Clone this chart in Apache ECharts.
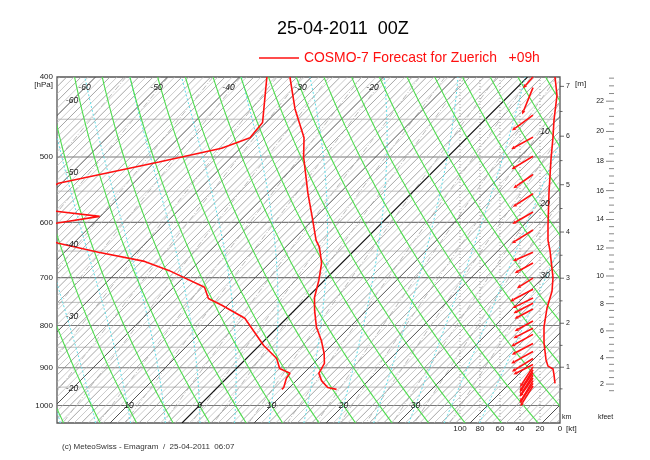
<!DOCTYPE html>
<html>
<head>
<meta charset="utf-8">
<script src="https://cdn.jsdelivr.net/npm/echarts@6/dist/echarts.min.js"></script>
<style>
html,body{margin:0;padding:0;background:#ffffff;}
#chart{width:650px;height:460px;}
</style>
</head>
<body>
<div id="chart"></div>
<script>
// ---------------- data ----------------
const titleText = '25-04-2011  00Z';
const forecastName = 'COSMO-7 Forecast for Zuerich   +09h';
const footerText = '(c) MeteoSwiss - Emagram  /  25-04-2011  06:07';

const pressureTicks = [400, 500, 600, 700, 800, 900, 1000];
const isobars = [450, 500, 550, 600, 650, 700, 750, 800, 850, 900, 950, 1000];
const topIsothermLabels = [-60, -50, -40, -30, -20];
const leftIsothermLabels = [-60, -50, -40, -30, -20];
const rightIsothermLabels = [10, 20, 30];
const bottomIsothermLabels = [-10, 0, 10, 20, 30];
const windTicks = [100, 80, 60, 40, 20, 0];
const kmTicks = [1, 2, 3, 4, 5, 6, 7];
const kfeetTicks = [2, 4, 6, 8, 10, 12, 14, 16, 18, 20, 22];

// temperature profile (hPa, °C)
const tempP = [400, 437, 474, 500, 553, 591, 631, 643, 672, 705, 740, 767, 804, 834, 865, 889, 914, 933, 951, 956];
const tempT = [-33.0, -27.9, -22.6, -20.0, -14.4, -10.5, -6.7, -5.3, -2.8, -0.8, 1.0, 2.8, 5.4, 7.9, 10.1, 11.5, 12.1, 13.5, 15.3, 16.8];
// dew point profile (hPa, °C)
const dewP = [400, 454, 474, 488, 507, 538, 574, 590, 612, 636, 652, 669, 686, 719, 742, 756, 784, 846, 877, 902, 914, 927, 951, 956];
const dewT = [-36.2, -30.5, -30.1, -32.6, -39.4, -50.4, -53.1, -40.1, -49.9, -42.1, -35.3, -27.6, -23.0, -15.7, -13.6, -10.8, -5.8, 0.6, 4.2, 6.0, 8.1, 8.3, 9.2, 9.2];
// wind speed profile (hPa, kt)
const speedP = [400, 421, 451, 473, 503, 552, 605, 631, 649, 700, 727, 762, 803, 840, 880, 896, 903, 918, 940];
const speedKt = [5, 3, 6, 7, 9, 11, 12, 12, 10, 7, 8, 13, 16, 16, 14, 12, 7, 6, 5];
// wind arrows (hPa, direction from [deg], length)
const arrowP = [400, 412, 445, 473, 499, 525, 554, 583, 613, 652, 672, 701, 723, 741, 752, 764, 790, 806, 820, 841, 860, 877, 892, 898, 905, 912, 919, 926, 933, 940, 947];
const arrowDir = [42, 22, 54, 61, 59, 55, 57, 60, 58, 66, 61, 58, 62, 64, 63, 62, 61, 63, 61, 62, 61, 58, 63, 33, 31, 34, 32, 35, 31, 34, 32];
const arrowLen = [15, 29, 26, 25, 25, 24, 24, 24, 25, 22, 21, 19, 26, 23, 22, 21, 21, 22, 25, 24, 25, 25, 22, 24, 25, 24, 25, 23, 25, 24, 24];

// ---------------- geometry ----------------
const K = 49.72;            // skew of isotherms (°C per unit of ln p)
const XMIN = -19.79, XMAX = 50.07;
const PX_PER_DEG = 7.2;
const ARROW_TAIL_KT = 27;
const skewX = (T, p) => T + K * Math.log(1000 / p);
const windX = kt => XMAX - kt / PX_PER_DEG;
const stdP = h => 1013.25 * Math.pow(1 - 2.25577e-5 * h, 5.25588);
const FONT = '"Liberation Sans", Arial, sans-serif';

// ---------------- background families ----------------
function range(a, b, s) { const r = []; for (let v = a; v <= b + 1e-9; v += s) r.push(+v.toFixed(4)); return r; }
const pLevels = range(400, 1050, 10);

const isoLines = range(-66, 52, 1).map(T => ({
  pts: [[skewX(T, 400), 400], [skewX(T, 1050), 1050]],
  style: T === 0 ? { stroke: '#111', lineWidth: 1.1 } :
         (T % 10 === 0 ? { stroke: '#505050', lineWidth: 1 } :
         (T % 2 === 0 ? { stroke: '#8e8e8e', lineWidth: 0.8 } : { stroke: '#b4b4b4', lineWidth: 0.7 }))
}));

const dryLines = range(-30, 95, 5).map(th => ({
  pts: pLevels.map(p => [skewX((th + 273.15) * Math.pow(p / 1000, 0.2857) - 273.15, p), p]),
  style: { stroke: '#4fdc4f', lineWidth: 1.1 }
}));

function es(Tc) { return 6.112 * Math.exp(17.67 * Tc / (Tc + 243.5)); }
function rsat(Tc, p) { const e = es(Tc); return 0.622 * e / (p - e); }
function dTdp(Tc, p) {
  const T = Tc + 273.15, r = rsat(Tc, p), Lv = 2.501e6, Rd = 287.04, cp = 1005.7;
  return (1 / p) * (Rd * T + Lv * r) / (cp + Lv * Lv * r * 0.622 / (Rd * T * T));
}
function moist(thw) {
  const up = [], dn = [];
  let T = thw, p = 1000, h = -5;
  up.push([T, p]);
  while (p > 400) { const k1 = dTdp(T, p); const k2 = dTdp(T + k1 * h / 2, p + h / 2); T += k2 * h; p += h; up.push([T, p]); }
  T = thw; p = 1000; h = 5;
  while (p < 1050) { const k1 = dTdp(T, p); const k2 = dTdp(T + k1 * h / 2, p + h / 2); T += k2 * h; p += h; dn.push([T, p]); }
  return dn.reverse().concat(up).map(([t, pp]) => [skewX(t, pp), pp]);
}
const moistLines = range(-25, 40, 5).map(th => ({
  pts: moist(th), style: { stroke: '#5fdfea', lineWidth: 1, lineDash: [2, 2] }
}));

const mixValues = [0.05, 0.1, 0.2, 0.3, 0.5, 0.7, 1, 1.5, 2, 3, 4, 5, 7, 10, 13, 16, 20, 25, 30, 40];
const mixLines = mixValues.map(w => ({
  pts: pLevels.map(p => {
    const e = (w / 1000) * p / (0.622 + w / 1000); const l = Math.log(e / 6.112);
    return [skewX(243.5 * l / (17.67 - l), p), p];
  }),
  style: { stroke: '#9c9c9c', lineWidth: 0.7, lineDash: [6, 2, 1, 2] }
}));

const isobarLines = isobars.map(p => ({
  pts: [[XMIN, p], [XMAX, p]],
  style: p % 100 === 0 ? { stroke: '#7a7a7a', lineWidth: 1.2 } : { stroke: '#bcbcbc', lineWidth: 1 }
}));
const windGridLines = windTicks.filter(k => k > 0).map(k => ({
  pts: [[windX(k), 400], [windX(k), 1050]],
  style: { stroke: '#8a8a8a', lineWidth: 0.8, lineDash: [1, 2] }
}));

function familySeries(lines, z) {
  return {
    type: 'custom', coordinateSystem: 'cartesian2d', clip: true, silent: true, z: z, animation: false,
    data: [[10, 700]],
    renderItem: (params, api) => ({
      type: 'group',
      children: lines.map(l => ({
        type: 'polyline',
        shape: { points: l.pts.map(pt => api.coord(pt)) },
        style: Object.assign({ fill: null }, l.style)
      }))
    })
  };
}

// ---------------- decorations (labels/ticks) ----------------
function txt(x, y, text, o) {
  o = o || {};
  return {
    type: 'text', x: x, y: y,
    style: {
      text: text, fill: o.fill || '#222',
      font: (o.italic ? 'italic ' : '') + (o.size || 8) + 'px ' + FONT,
      align: o.align || 'center', textAlign: o.align || 'center',
      verticalAlign: o.va || 'middle', textVerticalAlign: o.va || 'middle'
    }
  };
}
function seg(x1, y1, x2, y2, color, w) {
  return { type: 'line', shape: { x1, y1, x2, y2 }, style: { stroke: color || '#333', lineWidth: w || 1 } };
}

const decor = {
  type: 'custom', coordinateSystem: 'cartesian2d', clip: false, silent: true, z: 10, animation: false,
  data: [[10, 700]],
  renderItem: (params, api) => {
    const ch = [];
    const left = api.coord([XMIN, 400])[0], right = api.coord([XMAX, 400])[0];
    const top = api.coord([XMIN, 400])[1], bottom = api.coord([XMIN, 1050])[1];
    // pressure labels
    pressureTicks.forEach(p => { const c = api.coord([XMIN, p]); ch.push(txt(c[0] - 4, c[1], String(p), { align: 'right' })); });
    ch.push(txt(left - 4, top + 8, '[hPa]', { align: 'right' }));
    // isotherm labels
    const pTop = 400 * Math.exp(11 / 358);
    topIsothermLabels.forEach(T => { const c = api.coord([skewX(T, pTop), pTop]); ch.push(txt(c[0], c[1], String(T), { italic: true, size: 8.5 })); });
    const xl = XMIN + 15 / PX_PER_DEG, xr = XMAX - 15 / PX_PER_DEG;
    leftIsothermLabels.forEach(T => { const p = 1000 * Math.exp(-(xl - T) / K); const c = api.coord([xl, p]); ch.push(txt(c[0], c[1], String(T), { italic: true, size: 8.5 })); });
    rightIsothermLabels.forEach(T => { const p = 1000 * Math.exp(-(xr - T) / K); const c = api.coord([xr, p]); ch.push(txt(c[0], c[1], String(T), { italic: true, size: 8.5 })); });
    bottomIsothermLabels.forEach(T => { const c = api.coord([skewX(T, 1000), 1000]); ch.push(txt(c[0], c[1], String(T), { italic: true, size: 8.5 })); });
    // wind speed axis
    windTicks.forEach(k => { const x = api.coord([windX(k), 1050])[0]; ch.push(txt(x, bottom + 6, String(k))); });
    ch.push(txt(right + 6, bottom + 6, '[kt]', { align: 'left' }));
    // km axis
    for (let h = 0.5; h <= 7.5; h += 0.5) {
      const p = stdP(h * 1000); if (p < 400 || p > 1050) continue;
      const y = api.coord([XMAX, p])[1];
      const major = Math.abs(h - Math.round(h)) < 1e-6;
      ch.push(seg(right, y, right + (major ? 4 : 2.5), y, '#444', 0.8));
    }
    kmTicks.forEach(h => { const y = api.coord([XMAX, stdP(h * 1000)])[1]; ch.push(txt(right + 6, y, String(h), { align: 'left', size: 7 })); });
    ch.push(txt(right + 15, top + 7, '[m]', { align: 'left' }));
    ch.push(txt(right + 2, bottom - 6, 'km', { align: 'left', size: 7 }));
    // kfeet axis
    const kx = right + 54;
    for (let f = 1.5; f <= 23.5; f += 0.5) {
      const p = stdP(f * 304.8); if (p < 400 || p > 1050) continue;
      const y = api.coord([XMAX, p])[1];
      const major = Math.abs(f / 2 - Math.round(f / 2)) < 1e-6;
      ch.push(seg(kx - (major ? 8 : 5), y, kx, y, '#555', 0.7));
    }
    kfeetTicks.forEach(f => { const y = api.coord([XMAX, stdP(f * 304.8)])[1]; ch.push(txt(kx - 10, y, String(f), { align: 'right', size: 7 })); });
    ch.push(txt(kx - 16, bottom - 6, 'kfeet', { align: 'left', size: 7 }));
    return { type: 'group', children: ch };
  }
};

// ---------------- wind arrows ----------------
const arrows = {
  type: 'custom', coordinateSystem: 'cartesian2d', clip: false, silent: true, z: 6, animation: false,
  data: arrowP.map(p => [windX(ARROW_TAIL_KT), p]),
  renderItem: (params, api) => {
    const i = params.dataIndex;
    const tail = api.coord([windX(ARROW_TAIL_KT), arrowP[i]]);
    const r = arrowDir[i] * Math.PI / 180;
    const ux = -Math.sin(r), uy = Math.cos(r);
    const L = arrowLen[i];
    const head = [tail[0] + ux * L, tail[1] + uy * L];
    const hs = 4, hw = 1.8;
    const base = [head[0] - ux * hs, head[1] - uy * hs];
    const tri = [head, [base[0] - uy * hw, base[1] + ux * hw], [base[0] + uy * hw, base[1] - ux * hw]];
    return {
      type: 'group', children: [
        { type: 'line', shape: { x1: tail[0], y1: tail[1], x2: base[0], y2: base[1] }, style: { stroke: '#ff1010', lineWidth: 1.6 } },
        { type: 'polygon', shape: { points: tri }, style: { fill: '#ff1010' } }
      ]
    };
  }
};

// ---------------- chart ----------------
const chart = echarts.init(document.getElementById('chart'), null, { renderer: 'canvas' });
chart.setOption({
  animation: false,
  backgroundColor: '#ffffff',
  title: {
    text: titleText, left: 277, top: 20, padding: 0,
    textStyle: { fontSize: 18, fontWeight: 'normal', color: '#000', fontFamily: FONT }
  },
  legend: {
    data: [forecastName], left: 259, top: 51, padding: 0, selectedMode: false,
    icon: 'rect', itemWidth: 40, itemHeight: 1.5, itemGap: 6,
    textStyle: { color: '#ff1010', fontSize: 13.9, fontFamily: FONT }
  },
  graphic: [{
    type: 'text', left: 62, top: 443,
    style: { text: footerText, fill: '#333', font: '8px ' + FONT }
  }],
  grid: {
    left: 57, top: 77, width: 503, height: 346, show: true,
    borderColor: '#555', borderWidth: 1.3, backgroundColor: 'transparent',
    outerBoundsMode: 'none', containLabel: false
  },
  xAxis: { type: 'value', min: XMIN, max: XMAX, show: false },
  yAxis: { type: 'log', logBase: 10, min: 400, max: 1050, inverse: true, show: false },
  series: [
    familySeries(isobarLines, 1),
    familySeries(mixLines, 1),
    familySeries(isoLines, 2),
    familySeries(windGridLines, 2),
    familySeries(moistLines, 3),
    familySeries(dryLines, 3),
    {
      name: forecastName, type: 'line', z: 5, symbol: 'none', silent: true, color: '#ff1010',
      lineStyle: { color: '#ff1010', width: 1.6 },
      data: tempP.map((p, i) => [skewX(tempT[i], p), p])
    },
    {
      name: 'dewpoint', type: 'line', z: 5, symbol: 'none', silent: true, color: '#ff1010',
      lineStyle: { color: '#ff1010', width: 1.6 },
      data: dewP.map((p, i) => [skewX(dewT[i], p), p])
    },
    {
      name: 'wind speed', type: 'line', z: 5, symbol: 'none', silent: true, color: '#ff1010',
      lineStyle: { color: '#ff1010', width: 1.6 },
      data: speedP.map((p, i) => [windX(speedKt[i]), p])
    },
    arrows,
    decor
  ]
});
</script>
</body>
</html>
